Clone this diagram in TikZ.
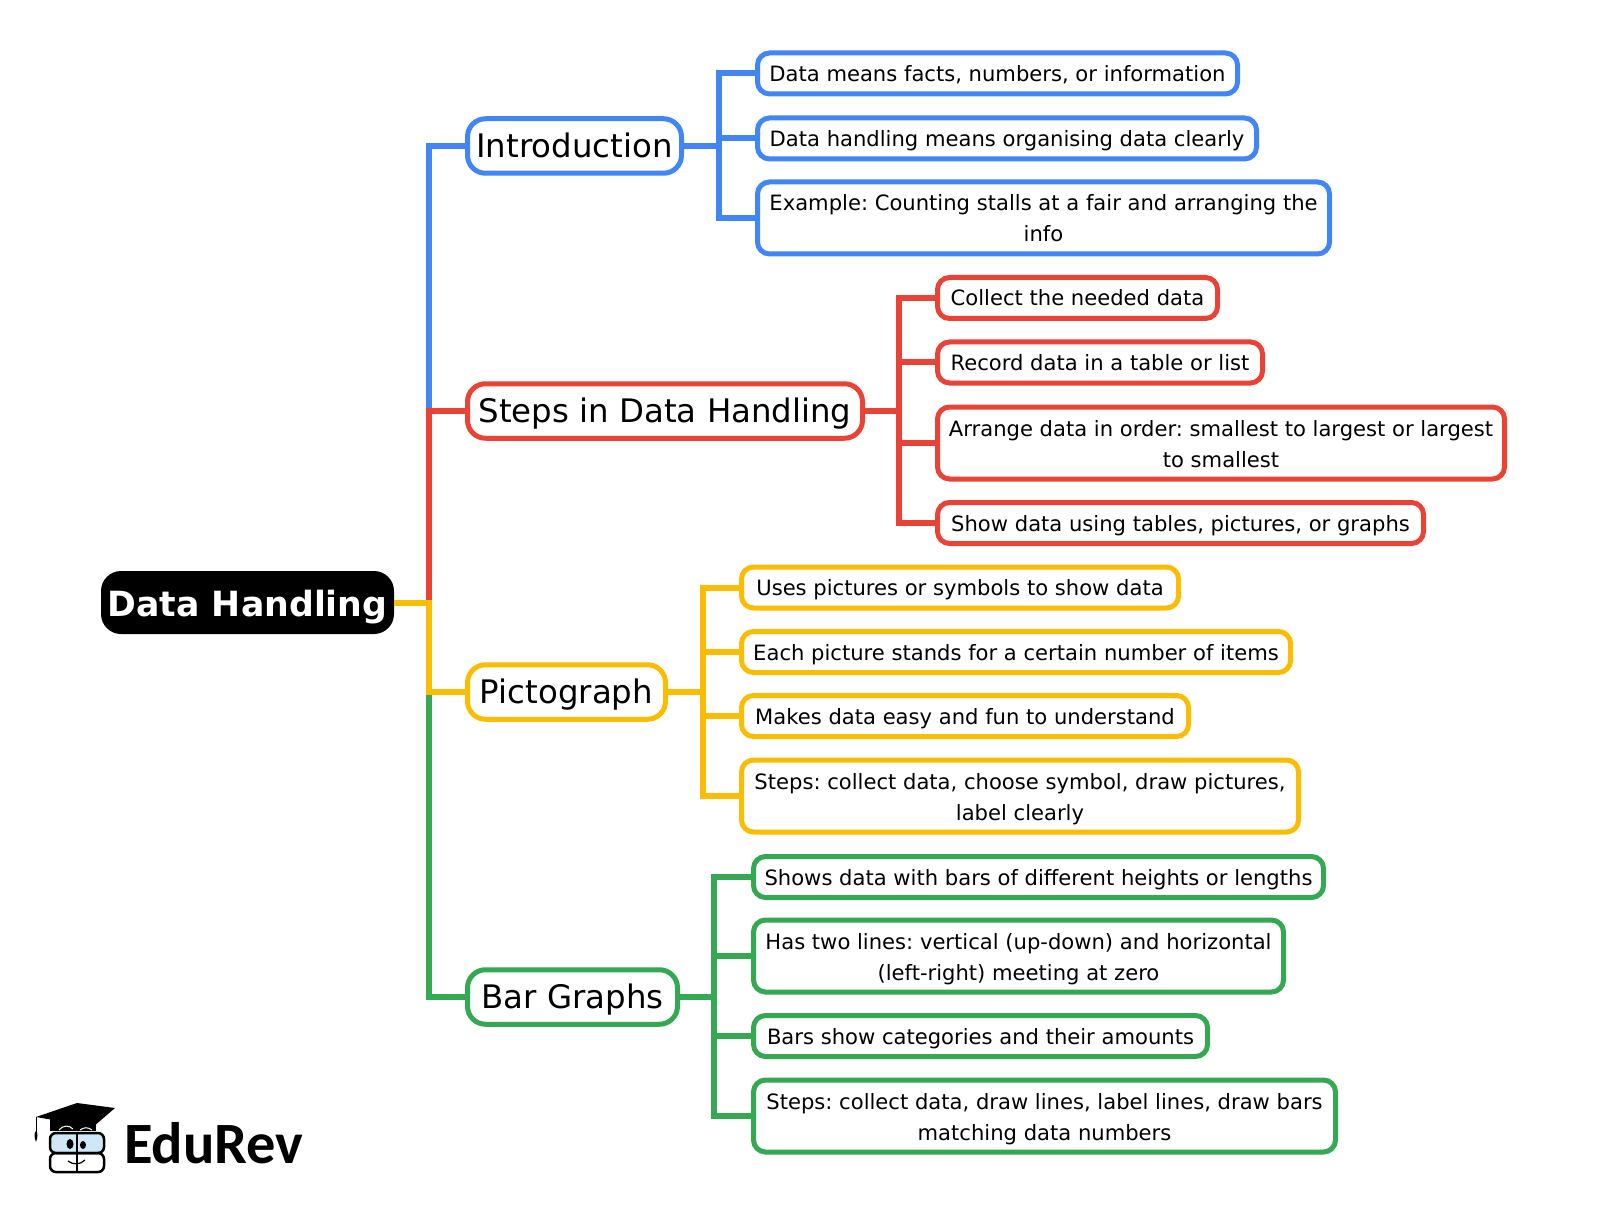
\documentclass[tikz,border=0pt]{standalone}
\usepackage{fontspec}
\setmainfont{DejaVu Sans}
\newfontfamily\logofont{Carlito}
\frenchspacing
\definecolor{mapblue}{HTML}{4285F4}
\definecolor{mapred}{HTML}{EA4335}
\definecolor{mapyellow}{HTML}{FBBC04}
\definecolor{mapgreen}{HTML}{34A853}
\definecolor{logoglass}{HTML}{CFE8F7}
\tikzset{
  rootbox/.style={fill=black, text=white, rounded corners=20pt, inner sep=0pt, outer sep=0pt, minimum width=293pt, minimum height=63pt, text height=30pt, text depth=2pt, font=\bfseries\fontsize{34.7}{40}\selectfont},
  branchbox/.style={draw, fill=white, line width=5pt, rounded corners=18pt, inner sep=0pt, outer sep=0pt, anchor=west, minimum height=54.5pt, text height=25pt, text depth=1.5pt, font=\fontsize{32.4}{40}\selectfont},
  leafbox/.style={draw, fill=white, line width=5pt, rounded corners=12pt, inner sep=0pt, outer sep=0pt, anchor=west, align=center, minimum height=41pt, text height=16pt, text depth=0pt, font=\fontsize{21.1}{31}\selectfont},
  twoline/.style={minimum height=72pt, text height=48pt},
  link/.style={line width=6pt}
}
\begin{document}
\begin{tikzpicture}[x=1pt, y=-1pt]
\useasboundingbox (0,0) rectangle (1607,1206);
\node[rootbox] (root) at (247.5,602.5) {Data Handling};
\node[branchbox, draw=mapblue, minimum width=214pt] (intro) at (467.5,146) {Introduction};
\node[branchbox, draw=mapred, minimum width=395pt] (steps) at (467.5,411) {Steps in Data Handling};
\node[branchbox, draw=mapyellow, minimum width=198pt] (picto) at (467.5,692) {Pictograph};
\node[branchbox, draw=mapgreen, minimum width=210pt] (bars) at (467.5,997) {Bar Graphs};

\node[leafbox, draw=mapblue, minimum width=480pt] (intro1) at (757.5,73.5) {Data means facts, numbers, or information};
\node[leafbox, draw=mapblue, minimum width=499pt] (intro2) at (757.5,138.5) {Data handling means organising data clearly};
\node[leafbox, twoline, draw=mapblue, minimum width=572pt] (intro3) at (757.5,218) {Example: Counting stalls at a fair and arranging the\\info};

\node[leafbox, draw=mapred, minimum width=280pt] (steps1) at (937.5,298) {Collect the needed data};
\node[leafbox, draw=mapred, minimum width=325pt] (steps2) at (937.5,362.5) {Record data in a table or list};
\node[leafbox, twoline, draw=mapred, minimum width=567pt] (steps3) at (937.5,443) {Arrange data in order: smallest to largest or largest\\to smallest};
\node[leafbox, draw=mapred, minimum width=486pt] (steps4) at (937.5,523) {Show data using tables, pictures, or graphs};

\node[leafbox, draw=mapyellow, minimum width=437pt] (picto1) at (741.5,587.5) {Uses pictures or symbols to show data};
\node[leafbox, draw=mapyellow, minimum width=549pt] (picto2) at (741.5,652) {Each picture stands for a certain number of items};
\node[leafbox, draw=mapyellow, minimum width=447pt] (picto3) at (741.5,716) {Makes data easy and fun to understand};
\node[leafbox, twoline, draw=mapyellow, minimum width=557pt] (picto4) at (741.5,796) {Steps: collect data, choose symbol, draw pictures,\\label clearly};

\node[leafbox, draw=mapgreen, minimum width=570pt] (bars1) at (753.5,877) {Shows data with bars of different heights or lengths};
\node[leafbox, twoline, draw=mapgreen, minimum width=530pt] (bars2) at (753.5,956) {Has two lines: vertical (up-down) and horizontal\\(left-right) meeting at zero};
\node[leafbox, draw=mapgreen, minimum width=454pt] (bars3) at (753.5,1036) {Bars show categories and their amounts};
\node[leafbox, twoline, draw=mapgreen, minimum width=582pt] (bars4) at (753.5,1116) {Steps: collect data, draw lines, label lines, draw bars\\matching data numbers};

\coordinate (trunk) at (429,602.5);
\coordinate (busintro) at (719,146);
\coordinate (bussteps) at (899,411);
\coordinate (buspicto) at (703,692);
\coordinate (busbars) at (714,997);

\draw[link, mapblue] (root.east) -- (trunk) |- (intro.west);
\draw[link, mapred] (root.east) -- (trunk) |- (steps.west);
\draw[link, mapgreen] (root.east) -- (trunk) |- (bars.west);
\draw[link, mapyellow] (root.east) -- (trunk) |- (picto.west);

\draw[link, mapblue] (intro.east) -- (busintro) (busintro) |- (intro1.west) (busintro) |- (intro2.west) (busintro) |- (intro3.west);
\draw[link, mapred] (steps.east) -- (bussteps) (bussteps) |- (steps1.west) (bussteps) |- (steps2.west) (bussteps) |- (steps3.west) (bussteps) |- (steps4.west);
\draw[link, mapyellow] (picto.east) -- (buspicto) (buspicto) |- (picto1.west) (buspicto) |- (picto2.west) (buspicto) |- (picto3.west) (buspicto) |- (picto4.west);
\draw[link, mapgreen] (bars.east) -- (busbars) (busbars) |- (bars1.west) (busbars) |- (bars2.west) (busbars) |- (bars3.west) (busbars) |- (bars4.west);

% logo
\draw[line width=2.5pt, rounded corners=6pt, fill=logoglass] (50,1133) rectangle (104,1153);
\draw[line width=2.5pt, rounded corners=6pt] (50,1153) rectangle (104,1172);
\fill (50,1117) -- (50,1131) -- (96,1131) -- (96,1117) -- cycle;
\fill (36,1117) -- (77,1103) -- (115,1108) -- (93,1127) -- cycle;
\draw[white, line width=1pt] (59,1130) .. controls (63,1125) and (69,1125) .. (73,1129);
\draw[white, line width=1pt] (80,1130) .. controls (84,1127) and (88,1127) .. (92,1130);
\draw[line width=1pt] (36,1117) -- (36,1133);
\fill (36,1142) .. controls (34,1137) and (34,1133) .. (36,1131) .. controls (38,1133) and (38,1137) .. (36,1142) -- cycle;
\draw[line width=2.5pt] (77,1132) -- (77,1173);
\fill (70,1144) ellipse (3.5pt and 5pt);
\fill (83,1145) ellipse (3pt and 4pt);
\draw[line width=1.2pt] (68,1161) .. controls (73,1165) and (80,1165) .. (85,1160);
\node[anchor=base west, inner sep=0pt, font=\logofont\bfseries\fontsize{58.5}{59}\selectfont] (brand) at (124,1163) {EduRev};
\end{tikzpicture}
\end{document}
